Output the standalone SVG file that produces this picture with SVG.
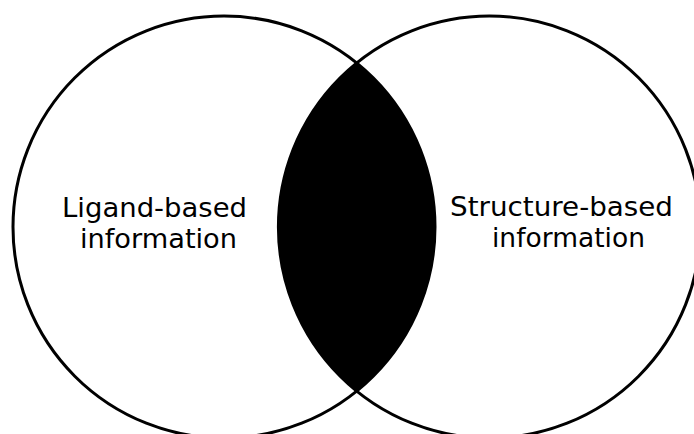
<svg xmlns="http://www.w3.org/2000/svg" width="694" height="434" viewBox="0 0 694 434">
  <style>
    .ring { fill: none; stroke: #000; stroke-width: 3; }
    .lens { fill: #000; stroke: none; }
    .label { font-family: "DejaVu Sans", sans-serif; font-size: 27px; fill: #000; }
  </style>
  <rect width="694" height="434" fill="#fff"/>
  <!-- overlap of the two sets -->
  <g id="overlap">
    <path class="lens" d="M 356.7 63 A 211 211 0 0 1 356.7 391 A 211 211 0 0 1 356.7 63 Z"/>
  </g>
  <g id="ligand-based">
    <circle class="ring" cx="224" cy="227" r="211"/>
    <text class="label" x="62" y="216.5" textLength="185" lengthAdjust="spacingAndGlyphs">Ligand-based</text>
    <text class="label" x="80" y="248" textLength="157" lengthAdjust="spacingAndGlyphs">information</text>
  </g>
  <g id="structure-based">
    <circle class="ring" cx="489.4" cy="227" r="211"/>
    <text class="label" x="450" y="215.5" textLength="223" lengthAdjust="spacingAndGlyphs">Structure-based</text>
    <text class="label" x="492" y="247" textLength="153" lengthAdjust="spacingAndGlyphs">information</text>
  </g>
</svg>
